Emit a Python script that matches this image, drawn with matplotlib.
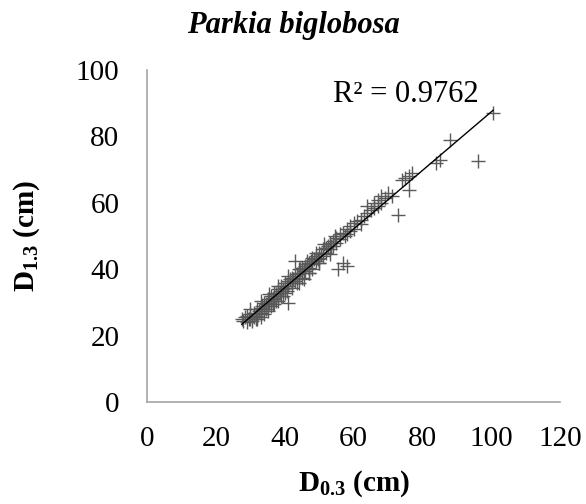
import numpy as np
import matplotlib
matplotlib.use("Agg")
import matplotlib.pyplot as plt

# Diametres (cm)
d03 = [27.5, 28, 28.5, 29, 29, 29.5, 30, 30, 30.5, 31, 31, 31.5, 32, 32, 32,
       32.5, 33, 33, 33, 33.5, 34, 34, 34, 34.5, 35, 35, 35, 35.5, 36, 36, 36,
       36.5, 37, 37, 37, 37.5, 38, 38, 38, 38.5, 39, 39, 39, 39.5, 40, 40, 40,
       40.5, 41, 41, 41, 41.5, 42, 42, 42, 42.5, 43, 43, 43, 43.5, 44, 44, 44,
       44.5, 45, 45, 45, 45.5, 46, 46, 46.5, 47, 47, 47, 47.5, 48, 48, 48,
       48.5, 49, 49, 49.5, 50, 50, 50, 50.5, 51, 51, 52, 52, 52.5, 53, 53,
       53.5, 54, 54, 55, 55, 55.5, 56, 56, 57, 57, 57.5, 58, 58, 58, 59, 59,
       60, 60, 61, 62, 62, 63, 64, 64, 65, 66, 66, 67, 67, 68, 68, 69, 70, 71,
       73, 74, 75, 76, 76, 77, 84, 85, 88, 96, 100.5,
       30, 33, 35.5, 38, 41, 44, 46.5, 49, 51.5, 54.5, 31.5, 36.5, 39.5, 45.5,
       32, 34.5, 37.5, 40.5, 43.5, 47, 50, 53]
d13 = [25, 24.5, 25.5, 24, 26, 25, 26.5, 25, 24.5, 27, 25.5, 26, 28, 26.5, 25,
       27.5, 28.5, 27, 25.5, 29, 28, 30, 26.5, 29.5, 31, 29, 27.5, 30, 32, 30.5, 29,
       31.5, 33, 31, 29.5, 32.5, 34, 32, 30.5, 33, 35, 33.5, 32, 34, 36, 34.5, 33,
       35, 36.5, 35, 29.8, 37, 37.5, 36, 34.5, 37, 42.5, 38, 36.5, 38.5, 39, 37.5, 36,
       40, 40.5, 39, 37.5, 39.5, 41, 39.5, 41.5, 42, 40.5, 39, 42.5, 43.5, 41.5, 40,
       43, 44, 42.5, 43, 45, 43.5, 42, 44.5, 46, 44, 46.5, 45, 47, 48, 46,
       47, 48.5, 47, 49.5, 48, 40, 50.5, 49, 42, 51, 50, 52, 41, 50.5, 53, 51.5,
       54, 52, 54.5, 55, 53.5, 56, 57, 59, 58, 60, 58.5, 61, 59, 62, 60, 61.5, 63, 62,
       56.5, 67, 67.5, 64, 68, 69, 72, 73, 79, 72.5, 87,
       28, 30.5, 32.5, 35, 38, 40, 42.5, 45, 47.5, 50, 25, 29.5, 32, 37,
       25.5, 28, 30.5, 33.5, 36, 39, 42, 44.5]
r2_text = "R² = 0.9762"

plt.rcParams['font.family'] = 'Liberation Serif'
plt.rcParams['mathtext.fontset'] = 'custom'
plt.rcParams['mathtext.rm'] = 'Liberation Serif'
plt.rcParams['mathtext.bf'] = 'Liberation Serif:bold'

fig = plt.figure(figsize=(5.86, 5.04), dpi=100)
ax = fig.add_axes([0.251, 0.202, 0.705, 0.659])

x = np.array(d03)
y = np.array(d13)
ax.scatter(x, y, marker='+', s=95, color='#595959', linewidths=1.0, zorder=2)

# droite de tendance
a, b = np.polyfit(x, y, 1)
xl = np.array([x.min(), x.max()])
ax.plot(xl, a * xl + b, color='black', lw=1.0, zorder=3)

ax.text(54, 90.5, r2_text, fontsize=22)

ax.set_xlim(0, 120)
ax.set_ylim(0, 100)
ax.set_xticks(range(0, 121, 20))
ax.set_yticks(range(0, 101, 20))
ax.tick_params(axis='both', length=0, labelsize=21)
ax.tick_params(axis='x', pad=17)
ax.tick_params(axis='y', pad=20)
for s in ['top', 'right']:
    ax.spines[s].set_visible(False)
for s in ['left', 'bottom']:
    ax.spines[s].set_color('#a6a6a6')
    ax.spines[s].set_linewidth(1.2)

ax.set_xlabel(r'$\mathbf{D_{0.3}}$ (cm)', fontsize=21, fontweight='bold', labelpad=12)
ax.set_ylabel(r'$\mathbf{D_{1.3}}$ (cm)', fontsize=21, fontweight='bold', labelpad=24)
fig.text(0.5, 1 - 26 / 504, 'Parkia biglobosa', fontsize=22, fontweight='bold',
         style='italic', ha='center', va='center')

fig.savefig('out.png', dpi=100)
